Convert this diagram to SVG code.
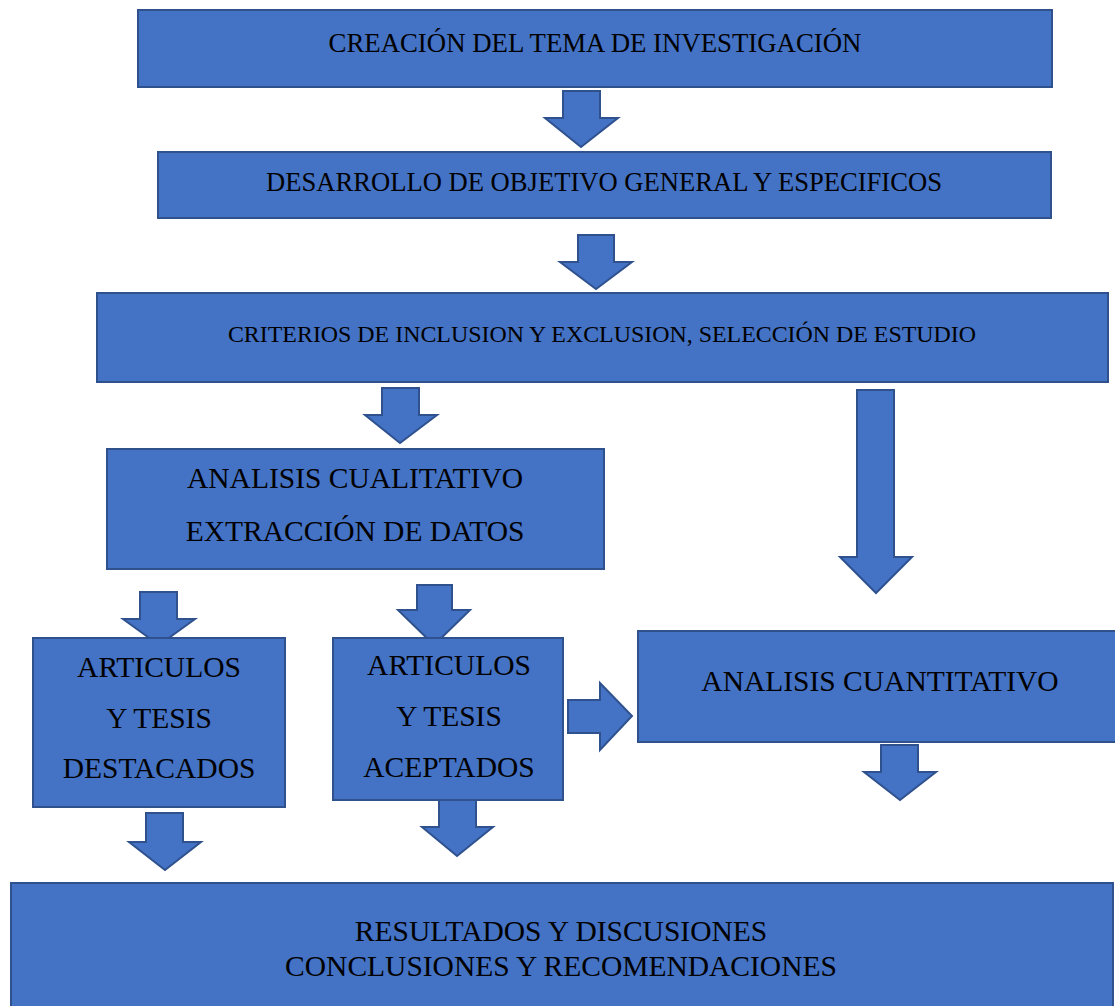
<svg xmlns="http://www.w3.org/2000/svg" width="1115" height="1006" viewBox="0 0 1115 1006">
<style>
.box{fill:#4472C4;stroke:#2F528F;stroke-width:2}
.arr{fill:#4472C4;stroke:#2F528F;stroke-width:2;stroke-linejoin:miter}
text{font-family:"Liberation Serif","Times New Roman",serif;fill:#000;text-anchor:middle}
.big{font-size:29.5px}
</style>
<rect width="1115" height="1006" fill="#fff"/>
<g id="connectors">
<path class="arr" d="M563,91 H600 V118 H618 L581,147 L545,118 H563 Z"/>
<path class="arr" d="M578,235 H614 V262 H632 L596,289 L560,262 H578 Z"/>
<path class="arr" d="M382,388 H419 V415 H437 L400,443 L365,415 H382 Z"/>
<path class="arr" d="M857,390 H894 V557 H912 L876,593 L840,557 H857 Z"/>
<path class="arr" d="M140,592 H177 V619 H195 L159,645 L123,619 H140 Z"/>
<path class="arr" d="M417,585 H452 V610 H470 L434,645 L398,610 H417 Z"/>
<path class="arr" d="M146,813 H183 V842 H201 L165,870 L129,842 H146 Z"/>
<path class="arr" d="M439,795 H476 V827 H493 L457,856 L422,827 H439 Z"/>
<path class="arr" d="M568,700 H600 V683 L632,716 L600,750 V733 H568 Z"/>
<path class="arr" d="M881,745 H918 V772 H936 L900,800 L864,772 H881 Z"/>
</g>
<g id="n1"><rect class="box" x="138" y="10" width="914" height="77"/><text x="595" y="52" font-size="26.8">CREACIÓN DEL TEMA DE INVESTIGACIÓN</text></g>
<g id="n2"><rect class="box" x="158" y="152" width="893" height="66"/><text x="604" y="191" font-size="26.6">DESARROLLO DE OBJETIVO GENERAL Y ESPECIFICOS</text></g>
<g id="n3"><rect class="box" x="97" y="293" width="1011" height="89"/><text x="602" y="342" font-size="23.9">CRITERIOS DE INCLUSION Y EXCLUSION, SELECCIÓN DE ESTUDIO</text></g>
<g id="n4"><rect class="box" x="107" y="449" width="497" height="120"/><text class="big" x="355" y="488">ANALISIS CUALITATIVO</text><text class="big" x="355" y="541">EXTRACCIÓN DE DATOS</text></g>
<g id="n5"><rect class="box" x="33" y="638" width="252" height="169"/><text class="big" x="159" y="677">ARTICULOS</text><text class="big" x="159" y="728">Y TESIS</text><text class="big" x="159" y="778">DESTACADOS</text></g>
<g id="n6"><rect class="box" x="333" y="638" width="230" height="162"/><text class="big" x="449" y="675">ARTICULOS</text><text class="big" x="449" y="726">Y TESIS</text><text class="big" x="449" y="777">ACEPTADOS</text></g>
<g id="n7"><rect class="box" x="638" y="631" width="478" height="111"/><text class="big" x="880" y="691">ANALISIS CUANTITATIVO</text></g>
<g id="n8"><rect class="box" x="11" y="883" width="1102" height="130"/><text class="big" x="561" y="941">RESULTADOS Y DISCUSIONES</text><text class="big" x="561" y="976">CONCLUSIONES Y RECOMENDACIONES</text></g>
</svg>
